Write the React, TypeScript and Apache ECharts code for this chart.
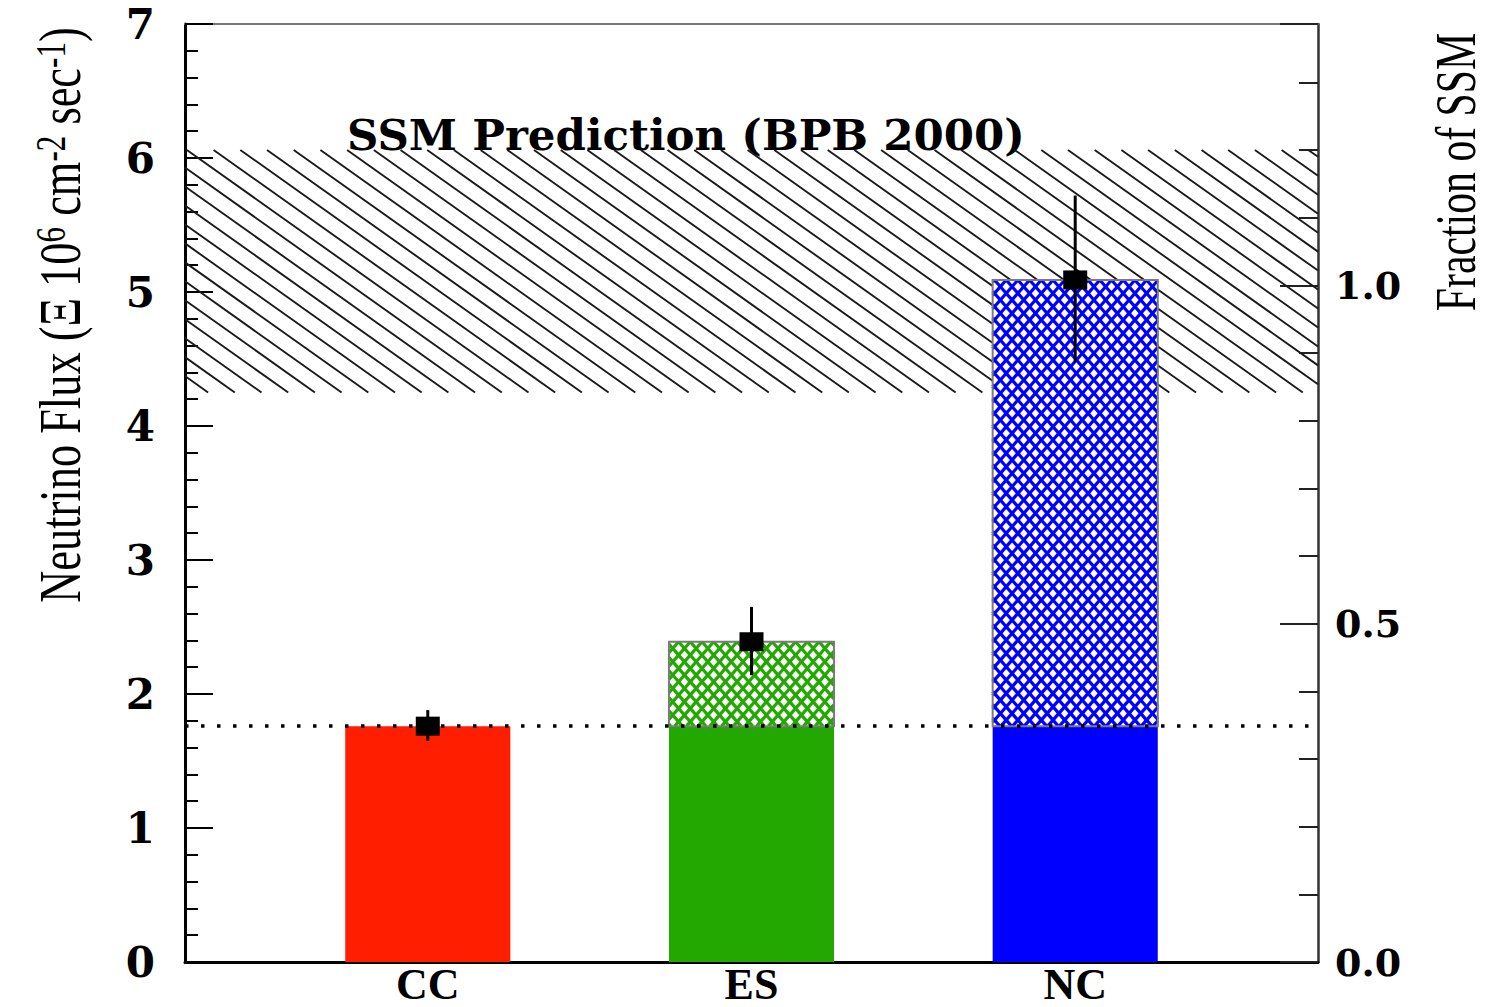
import React, { useEffect, useRef } from 'react';
import * as echarts from 'echarts';

// ---------------- data ----------------
const categories = ['CC', 'ES', 'NC'];
const categoryPos = [1, 2, 3];
const fluxValues = [1.76, 2.39, 5.09];
const errorUp = [0.12, 0.26, 0.63];
const errorDown = [0.11, 0.25, 0.61];
const ccFluxLevel = 1.76;
const ssmBand = [4.25, 6.06];
const ssmCenter = 5.05;
const barColors = ['#FF1E00', '#22A800', '#0000FF'];
const xRange = [0.25, 3.75];
const yRange = [0, 7];
const rightTickLabels = [0, 0.5, 1.0];

const BAR_HALF = 0.255;

function hatchLines(
  x0: number, y0: number, x1: number, y1: number,
  slope: number, spacing: number, stroke: string, lineWidth: number
) {
  const h = y1 - y0;
  const shift = h / slope;
  const cMin = Math.min(x0, x0 - shift) - spacing;
  const cMax = Math.max(x1, x1 - shift) + spacing;
  const start = Math.floor(cMin / spacing) * spacing;
  const out: any[] = [];
  for (let c = start; c <= cMax; c += spacing) {
    const ax = c, ay = y0, bx = c + shift, by = y1;
    const dx = bx - ax;
    let tmin: number, tmax: number;
    if (dx > 0) { tmin = (x0 - ax) / dx; tmax = (x1 - ax) / dx; }
    else { tmin = (x1 - ax) / dx; tmax = (x0 - ax) / dx; }
    const t0 = Math.max(0, tmin), t1 = Math.min(1, tmax);
    if (t1 - t0 > 1e-6) {
      out.push({
        type: 'line',
        shape: {
          x1: ax + t0 * dx, y1: ay + t0 * (by - ay),
          x2: ax + t1 * dx, y2: ay + t1 * (by - ay),
        },
        style: { stroke, lineWidth },
      });
    }
  }
  return out;
}

const barPieces: number[][] = [];
categoryPos.forEach((p, i) => {
  barPieces.push([p, 0, Math.min(fluxValues[i], ccFluxLevel), i, 0]);
  if (fluxValues[i] > ccFluxLevel + 0.02) {
    barPieces.push([p, ccFluxLevel, fluxValues[i], i, 1]);
  }
});

export default function App() {
  const ref = useRef<HTMLDivElement>(null);
  useEffect(() => {
    document.body.style.margin = '0';
    document.documentElement.style.overflow = 'hidden';
    const chart = echarts.init(ref.current!, null, { renderer: 'svg' });
    const rightMax = yRange[1] / ssmCenter;
    const option: any = {
      animation: false,
      backgroundColor: '#fff',
      grid: { left: 185, right: 168, top: 24, bottom: 45, containLabel: false },
      xAxis: [
        {
          type: 'value', min: xRange[0], max: xRange[1], interval: 0.25, position: 'bottom',
          axisLine: { show: true, onZero: false, lineStyle: { color: '#000', width: 3 } },
          axisTick: { show: false },
          splitLine: { show: false },
          axisLabel: {
            margin: 0, lineHeight: 44,
            color: '#000', fontFamily: 'Liberation Serif', fontWeight: 'bold', fontSize: 44,
            formatter: (v: number) => {
              const k = categoryPos.findIndex((p) => Math.abs(p - v) < 1e-6);
              return k >= 0 ? categories[k] : '';
            },
          },
        },
        {
          type: 'value', min: xRange[0], max: xRange[1], position: 'top',
          axisLine: { show: true, onZero: false, lineStyle: { color: '#777', width: 2 } },
          axisTick: { show: false }, axisLabel: { show: false }, splitLine: { show: false },
        },
      ],
      yAxis: [
        {
          type: 'value', min: yRange[0], max: yRange[1], interval: 1, position: 'left',
          axisLine: { show: true, onZero: false, lineStyle: { color: '#000', width: 3 } },
          axisTick: { show: true, inside: true, length: 28, lineStyle: { color: '#000', width: 2 } },
          minorTick: { show: true, splitNumber: 5, length: 13, lineStyle: { color: '#000', width: 2 } },
          splitLine: { show: false }, minorSplitLine: { show: false },
          axisLabel: {
            margin: 30, color: '#000', fontFamily: 'DejaVu Serif', fontWeight: 'bold', fontSize: 42,
          },
        },
        {
          type: 'value', min: 0, max: rightMax, interval: 0.1, position: 'right',
          axisLine: { show: true, onZero: false, lineStyle: { color: '#333', width: 2.5 } },
          axisTick: { show: true, inside: true, length: 19, lineStyle: { color: '#222', width: 2 } },
          axisLabel: { show: false }, splitLine: { show: false },
        },
        {
          type: 'value', min: 0, max: rightMax, interval: 0.5, position: 'right',
          axisLine: { show: false },
          axisTick: { show: true, inside: true, length: 38, lineStyle: { color: '#222', width: 2 } },
          splitLine: { show: false },
          axisLabel: {
            margin: 17, color: '#000', fontFamily: 'DejaVu Serif', fontWeight: 'bold', fontSize: 38,
            formatter: (v: number) => {
              const k = rightTickLabels.findIndex((t) => Math.abs(t - v) < 1e-6);
              return k >= 0 ? rightTickLabels[k].toFixed(1) : '';
            },
          },
        },
      ],
      graphic: [
        {
          type: 'text', x: 60, y: 315, rotation: Math.PI / 2, scaleX: 0.74,
          style: {
            text: '{n|Neutrino Flux (Ξ 10}{s|6}{n| cm}{s|-2}{n| sec}{s|-1}{n|)}',
            rich: {
              n: { fontSize: 60, fontFamily: 'Liberation Serif', fill: '#000' },
              s: { fontSize: 42, fontFamily: 'Liberation Serif', fill: '#000', verticalAlign: 'top' },
            },
            align: 'center', verticalAlign: 'middle',
          },
        },
        {
          type: 'text', x: 1455, y: 172, rotation: Math.PI / 2, scaleX: 0.72,
          style: {
            text: 'Fraction of SSM', fontSize: 58, fontFamily: 'Liberation Serif', fill: '#000',
            align: 'center', verticalAlign: 'middle',
          },
        },
        {
          type: 'text', x: 347, y: 134,
          style: {
            text: 'SSM Prediction (BPB 2000)', fontSize: 43.5, fontFamily: 'DejaVu Serif',
            fontWeight: 'bold', fill: '#000', align: 'left', verticalAlign: 'middle',
          },
        },
      ],
      series: [
        {
          type: 'custom', name: 'SSM band', coordinateSystem: 'cartesian2d', z: 1,
          data: [[xRange[0], xRange[1], ssmBand[0], ssmBand[1]]],
          renderItem: (params: any, api: any) => {
            const a = api.coord([api.value(0), api.value(3)]);
            const b = api.coord([api.value(1), api.value(2)]);
            return {
              type: 'group',
              children: hatchLines(a[0], a[1], b[0], b[1], 0.71, 26.7, '#1a1a1a', 1.9),
            };
          },
        },
        {
          type: 'custom', name: 'bars', coordinateSystem: 'cartesian2d', z: 2,
          data: barPieces,
          renderItem: (params: any, api: any) => {
            const x = api.value(0), lo = api.value(1), hi = api.value(2);
            const ci = api.value(3), hatched = api.value(4);
            const a = api.coord([x - BAR_HALF, hi]);
            const b = api.coord([x + BAR_HALF, lo]);
            const color = barColors[ci];
            const shape = { x: a[0], y: a[1], width: b[0] - a[0], height: b[1] - a[1] };
            if (!hatched) {
              return { type: 'rect', shape, style: { fill: color } };
            }
            return {
              type: 'group',
              children: [
                { type: 'rect', shape, style: { fill: '#fff' } },
                ...hatchLines(a[0], a[1], b[0], b[1], 1.14, 11.7, color, 3.2),
                ...hatchLines(a[0], a[1], b[0], b[1], -1.14, 11.7, color, 3.2),
                { type: 'rect', shape, style: { fill: 'none', stroke: '#7a7a7a', lineWidth: 2 } },
              ],
            };
          },
        },
        {
          type: 'custom', name: 'errors', coordinateSystem: 'cartesian2d', z: 4,
          data: categoryPos.map((p, i) => [p, fluxValues[i], errorUp[i], errorDown[i]]),
          renderItem: (params: any, api: any) => {
            const x = api.value(0), v = api.value(1);
            const top = api.coord([x, v + api.value(2)]);
            const bot = api.coord([x, v - api.value(3)]);
            return {
              type: 'line',
              shape: { x1: top[0], y1: top[1], x2: bot[0], y2: bot[1] },
              style: { stroke: '#000', lineWidth: 3 },
            };
          },
          markLine: {
            silent: true, symbol: 'none', z: 3,
            label: { show: false },
            lineStyle: { color: '#000', width: 3.5, type: [3.5, 12.5] },
            data: [{ yAxis: ccFluxLevel }],
          },
        },
        {
          type: 'scatter', name: 'flux', z: 5,
          symbol: 'rect', symbolSize: [24, 19],
          itemStyle: { color: '#000', opacity: 1 },
          data: categoryPos.map((p, i) => [p, fluxValues[i]]),
        },
      ],
    };
    chart.setOption(option);
    return () => chart.dispose();
  }, []);
  return <div ref={ref} style={{ width: 1486, height: 1007, overflow: 'hidden' }} />;
}
